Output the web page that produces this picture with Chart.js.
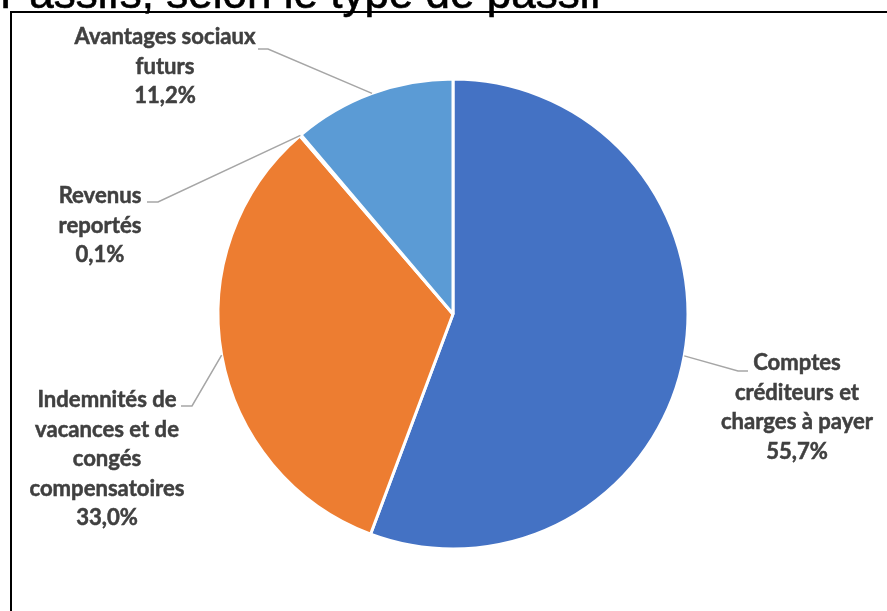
<!DOCTYPE html>
<html>
<head>
<meta charset="utf-8">
<script src="https://cdn.jsdelivr.net/npm/chart.js@4.4.1/dist/chart.umd.min.js"></script>
<style>
  html, body { margin: 0; padding: 0; background: #ffffff; }
  #wrap { position: relative; width: 887px; height: 611px; overflow: hidden; }
  canvas { display: block; }
</style>
</head>
<body>
<div id="wrap"><canvas id="c" width="887" height="611"></canvas></div>
<script>
// ---- Data ----
const title = "Passifs, selon le type de passif";
const categories = [
  "Comptes créditeurs et charges à payer",
  "Indemnités de vacances et de congés compensatoires",
  "Revenus reportés",
  "Avantages sociaux futurs"
];
const categoryLines = [
  ["Comptes", "créditeurs et", "charges à payer"],
  ["Indemnités de", "vacances et de", "congés", "compensatoires"],
  ["Revenus", "reportés"],
  ["Avantages sociaux", "futurs"]
];
const values = [55.7, 33.0, 0.1, 11.2];
const colors = ["#4472C4", "#ED7D31", "#A5A5A5", "#5B9BD5"];

// ---- Label layout (positions only) ----
const labelLayout = [
  { cx: 797, y0: 363, elbow: [738, 371], end: [748, 371] },
  { cx: 107, y0: 400, elbow: [192, 406], end: [181, 406] },
  { cx: 100, y0: 196, elbow: [158, 202], end: [147, 202] },
  { cx: 165, y0: 37,  elbow: [268, 49],  end: [258, 49] }
];
const LINE_H = 29.5;
const LABEL_FAMILY = "Lato";

function fmtPct(v) { return v.toFixed(1).replace('.', ',') + '%'; }

const decorPlugin = {
  id: 'decor',
  afterDraw(chart) {
    const ctx = chart.ctx;
    ctx.save();
    // frame
    ctx.strokeStyle = '#000000';
    ctx.lineWidth = 2;
    ctx.strokeRect(11, 12, 1000, 1000);
    // title (cut off at top)
    ctx.fillStyle = '#000000';
    ctx.strokeStyle = '#000000';
    ctx.lineWidth = 0.6;
    ctx.font = '44px "Liberation Sans", Arial, sans-serif';
    ctx.textAlign = 'left';
    ctx.textBaseline = 'alphabetic';
    ctx.fillText(title, 0, 8);
    ctx.strokeText(title, 0, 8);

    // fit label font
    ctx.font = 'bold 100px ' + LABEL_FAMILY;
    const w100 = ctx.measureText("Avantages sociaux").width;
    const fs = 100 * 181 / w100;
    const meta = chart.getDatasetMeta(0);
    meta.data.forEach((arc, i) => {
      const p = arc.getProps(['x', 'y', 'startAngle', 'endAngle', 'outerRadius'], true);
      const mid = (p.startAngle + p.endAngle) / 2;
      const ax = p.x + Math.cos(mid) * p.outerRadius;
      const ay = p.y + Math.sin(mid) * p.outerRadius;
      const L = labelLayout[i];
      ctx.strokeStyle = '#A6A6A6';
      ctx.lineWidth = 1.5;
      ctx.beginPath();
      ctx.moveTo(ax, ay);
      ctx.lineTo(L.elbow[0], L.elbow[1]);
      ctx.lineTo(L.end[0], L.end[1]);
      ctx.stroke();

      ctx.fillStyle = '#404040';
      ctx.strokeStyle = '#404040';
      ctx.lineWidth = 0.5;
      ctx.font = 'bold ' + fs.toFixed(2) + 'px ' + LABEL_FAMILY;
      ctx.textAlign = 'center';
      ctx.textBaseline = 'middle';
      const lines = categoryLines[i].concat([fmtPct(values[i])]);
      lines.forEach((t, k) => {
        ctx.fillText(t, L.cx, L.y0 + k * LINE_H);
        ctx.strokeText(t, L.cx, L.y0 + k * LINE_H);
      });
    });
    ctx.restore();
  }
};

new Chart(document.getElementById('c'), {
  type: 'pie',
  data: {
    labels: categories,
    datasets: [{
      data: values,
      backgroundColor: colors,
      borderColor: '#ffffff',
      borderWidth: 3
    }]
  },
  options: {
    responsive: false,
    animation: false,
    radius: 235,
    layout: { padding: { left: 19, right: 0, top: 17, bottom: 0 } },
    plugins: { legend: { display: false }, tooltip: { enabled: false }, title: { display: false } }
  },
  plugins: [decorPlugin]
});
</script>
</body>
</html>
